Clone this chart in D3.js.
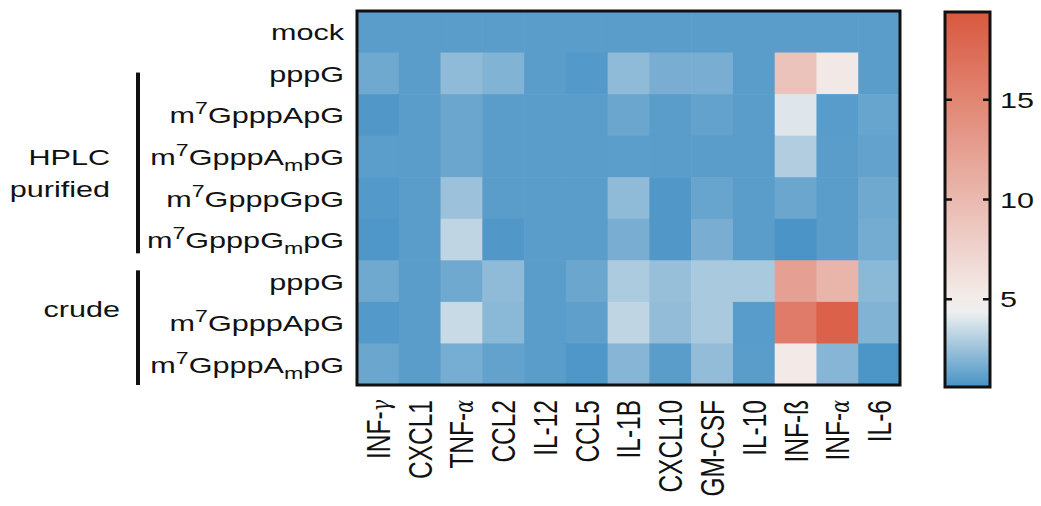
<!DOCTYPE html>
<html>
<head>
<meta charset="utf-8">
<script src="https://cdn.jsdelivr.net/npm/d3@7"></script>
<style>
  html, body { margin: 0; padding: 0; background: #fff; }
  svg { display: block; font-family: "Liberation Sans", Arial, sans-serif; }
</style>
</head>
<body>
<svg id="chart" width="1041" height="506"></svg>
<script>
// ---- data ----
const cytokines = ["INF-γ", "CXCL1", "TNF-α", "CCL2", "IL-12", "CCL5", "IL-1B", "CXCL10", "GM-CSF", "IL-10", "INF-ß", "INF-α", "IL-6"];
const rowIds = ["mock", "pppG_h", "ApG_h", "AmpG_h", "GpG_h", "GmpG_h", "pppG_c", "ApG_c", "AmpG_c"];
const rowLabelParts = [
  [["mock", null]],
  [["pppG", null]],
  [["m", null], ["7", "sup"], ["GpppApG", null]],
  [["m", null], ["7", "sup"], ["GpppA", null], ["m", "sub"], ["pG", null]],
  [["m", null], ["7", "sup"], ["GpppGpG", null]],
  [["m", null], ["7", "sup"], ["GpppG", null], ["m", "sub"], ["pG", null]],
  [["pppG", null]],
  [["m", null], ["7", "sup"], ["GpppApG", null]],
  [["m", null], ["7", "sup"], ["GpppA", null], ["m", "sub"], ["pG", null]]
];
const groups = [
  { lines: ["HPLC", "purified"], first: 1, last: 5 },
  { lines: ["crude"], first: 6, last: 8 }
];
// fold-change values, one array per row (columns follow `cytokines`)
const mock   = [1.0, 1.0, 1.0, 1.0, 1.0, 1.0, 1.0, 1.0, 1.0, 1.0, 1.0, 1.0, 1.0];
const pppG_h = [1.5, 1.0, 2.2, 1.9, 1.0, 0.85, 2.2, 1.7, 1.7, 1.0, 9.0, 5.4, 1.0];
const ApG_h  = [0.8, 1.0, 1.4, 1.0, 1.0, 1.0, 1.4, 1.0, 1.2, 1.0, 4.0, 0.95, 1.3];
const AmpG_h = [1.05, 1.0, 1.4, 1.0, 1.0, 1.0, 1.05, 1.0, 1.0, 1.0, 3.0, 1.0, 1.2];
const GpG_h  = [0.85, 1.0, 2.5, 1.0, 1.0, 1.0, 2.2, 0.8, 1.3, 1.0, 1.4, 1.0, 1.5];
const GmpG_h = [0.75, 1.0, 3.3, 0.8, 1.0, 1.0, 1.7, 0.8, 1.7, 1.0, 0.65, 1.0, 1.6];
const pppG_c = [1.5, 1.0, 1.5, 2.2, 1.0, 1.4, 2.9, 2.4, 2.8, 2.8, 12.4, 10.5, 2.1];
const ApG_c  = [0.85, 1.0, 3.5, 2.1, 1.0, 1.1, 3.3, 2.3, 2.8, 0.95, 16.0, 18.5, 1.9];
const AmpG_c = [1.4, 1.0, 1.65, 1.2, 1.0, 0.75, 2.0, 1.0, 2.3, 1.0, 5.3, 2.0, 0.7];
const rows = [mock, pppG_h, ApG_h, AmpG_h, GpG_h, GmpG_h, pppG_c, ApG_c, AmpG_c];
const colorTicks = [5, 10, 15];
const colorDomain = [0.6, 4.5, 19.4];

// ---- layout ----
const svg = d3.select("#chart");
const X0 = 357, X1 = 900, Y0 = 11, Y1 = 385;
const SX = 1.36;      // the original figure is stretched horizontally
const FS = 22.5;
const x = d3.scaleBand().domain(cytokines).range([X0, X1]);
const y = d3.scaleBand().domain(rowIds).range([Y0, Y1]);
const color = d3.scaleLinear().domain(colorDomain)
  .range(["#4893c6", "#f4f2f1", "#d9583f"]).clamp(true);

const cells = [];
rows.forEach((r, i) => r.forEach((v, j) => cells.push({ row: rowIds[i], col: cytokines[j], v })));

svg.append("g").selectAll("rect").data(cells).join("rect")
  .attr("x", d => x(d.col)).attr("y", d => y(d.row))
  .attr("width", x.bandwidth() + 0.6).attr("height", y.bandwidth() + 0.6)
  .attr("fill", d => color(d.v));

svg.append("rect").attr("x", X0).attr("y", Y0)
  .attr("width", X1 - X0).attr("height", Y1 - Y0)
  .attr("fill", "none").attr("stroke", "#111").attr("stroke-width", 3);

function hText(xr, yb, anchor) {
  return svg.append("text")
    .attr("transform", `translate(${xr},${yb}) scale(${SX},1)`)
    .attr("text-anchor", anchor).attr("font-size", FS).attr("fill", "#111");
}

// row labels
rowIds.forEach((id, i) => {
  const t = hText(344, y(id) + y.bandwidth() / 2 + 8.5, "end");
  rowLabelParts[i].forEach(([s, k]) => {
    const ts = t.append("tspan").text(s);
    if (k === "sup") ts.attr("font-size", 17).attr("baseline-shift", 9);
    if (k === "sub") ts.attr("font-size", 17).attr("baseline-shift", -6);
  });
});

// group bars and labels
groups.forEach((g, gi) => {
  const top = gi === 0 ? y(rowIds[g.first]) + 20 : y(rowIds[g.first]) + 10;
  const bot = gi === 0 ? y(rowIds[g.last]) + y.bandwidth() - 7 : Y1;
  svg.append("line").attr("x1", 138).attr("x2", 138).attr("y1", top).attr("y2", bot)
    .attr("stroke", "#111").attr("stroke-width", 4);
  const cy = (y(rowIds[g.first]) + y(rowIds[g.last]) + y.bandwidth()) / 2;
  const rx = gi === 0 ? 110 : 120;
  const first = gi === 0 ? cy + 1 : cy - 14;
  g.lines.forEach((ln, k) => {
    hText(rx, first + k * 32 + 8, "end").text(ln);
  });
});

// column labels (rotated)
cytokines.forEach(c => {
  const cx = x(c) + x.bandwidth() / 2;
  const t = svg.append("text")
    .attr("transform", `translate(${cx},400) scale(${SX},1) rotate(-90)`)
    .attr("dy", "0.36em")
    .attr("text-anchor", "end").attr("font-size", 24.5).attr("fill", "#111");
  const m = c.match(/^(.*-)([γα])$/);
  if (m) {
    t.append("tspan").text(m[1]);
    t.append("tspan").text(m[2]).attr("font-size", 19)
      .attr("font-family", "DejaVu Serif").attr("font-style", "italic");
  } else {
    t.text(c);
  }
});

// colour bar
const CB0 = 945, CB1 = 990, CBT = 12, CBB = 387;
const cby = d3.scaleLinear().domain([colorDomain[0], colorDomain[2]]).range([CBB, CBT]);
const defs = svg.append("defs");
const grad = defs.append("linearGradient").attr("id", "cbar")
  .attr("x1", 0).attr("y1", 1).attr("x2", 0).attr("y2", 0);
d3.range(0, 1.0001, 0.05).forEach(t => {
  const v = colorDomain[0] + t * (colorDomain[2] - colorDomain[0]);
  grad.append("stop").attr("offset", t).attr("stop-color", color(v));
});
svg.append("rect").attr("x", CB0).attr("y", CBT).attr("width", CB1 - CB0).attr("height", CBB - CBT)
  .attr("fill", "url(#cbar)").attr("stroke", "#111").attr("stroke-width", 3);
colorTicks.forEach(v => {
  const ty = cby(v);
  svg.append("line").attr("x1", CB0).attr("x2", CB0 + 7).attr("y1", ty).attr("y2", ty)
    .attr("stroke", "#111").attr("stroke-width", 2.5);
  svg.append("line").attr("x1", CB1 - 7).attr("x2", CB1).attr("y1", ty).attr("y2", ty)
    .attr("stroke", "#111").attr("stroke-width", 2.5);
  hText(1000, ty + 8, "start").text(v);
});
</script>
</body>
</html>
